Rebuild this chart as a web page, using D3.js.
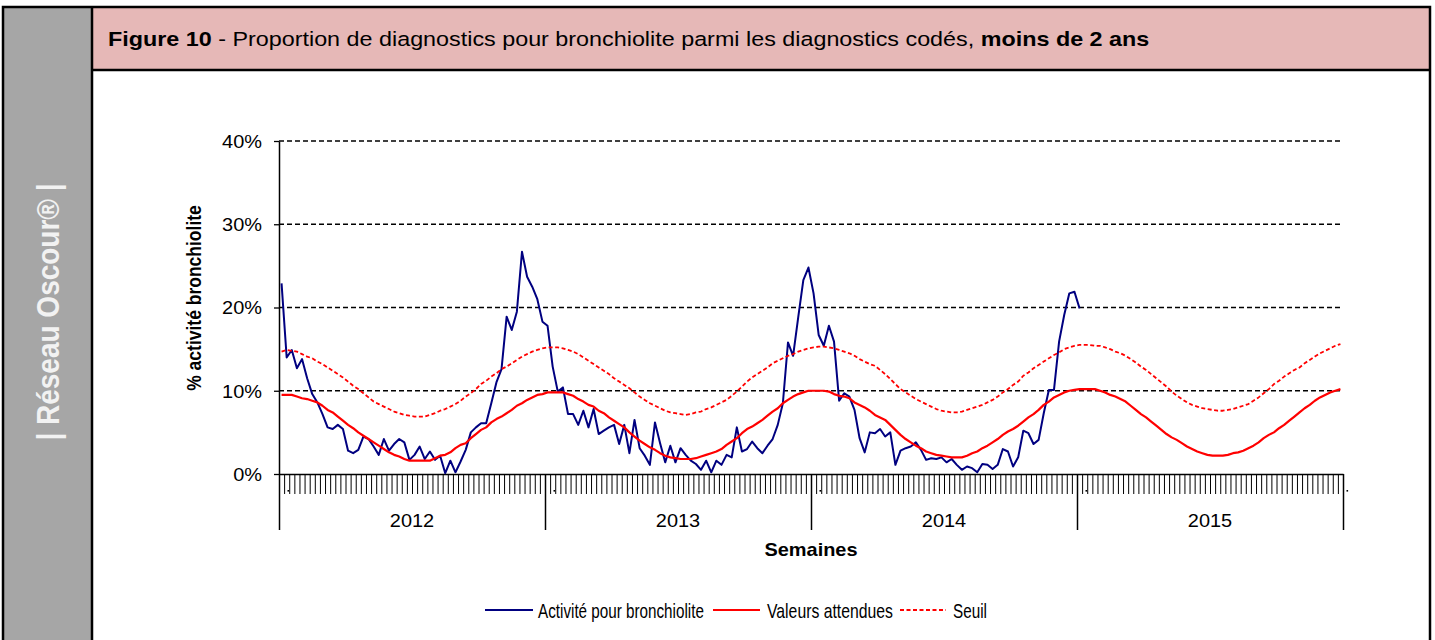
<!DOCTYPE html>
<html>
<head>
<meta charset="utf-8">
<script src="https://cdn.jsdelivr.net/npm/d3@7"></script>
<style>
  body { margin: 0; background: #fff; }
  svg { display: block; font-family: "Liberation Sans", Arial, sans-serif; }
</style>
</head>
<body>
<svg id="chart" width="1435" height="640"></svg>
<script>
// ---- data (percent, one value per week) ----
var years = ["2012", "2013", "2014", "2015"];
var weeksPerYear = [52, 52, 52, 52];

var activite = [
  22.9,14.0,14.9,12.7,13.8,11.5,9.6,8.6,7.2,5.6,
  5.4,5.9,5.4,2.8,2.5,2.9,4.5,4.2,3.3,2.3,
  4.2,2.8,3.6,4.2,3.8,1.7,2.3,3.3,1.8,2.7,
  1.7,2.2,0.1,1.6,0.2,1.5,2.9,5.0,5.6,6.1,
  6.1,8.5,11.0,12.6,18.9,17.3,19.5,26.7,23.7,22.5,
  21.0,18.3,17.8,12.9,9.9,10.4,7.2,7.2,5.9,7.6,
  5.6,7.8,4.8,5.2,5.6,5.9,3.6,5.9,2.5,6.5,
  3.1,2.2,1.1,6.2,3.7,1.4,3.4,1.4,3.1,2.3,
  1.6,1.2,0.5,1.6,0.2,1.6,1.1,2.3,2.0,5.6,
  2.7,3.0,3.9,3.1,2.5,3.4,4.2,5.9,8.5,15.8,
  14.2,18.8,23.3,24.8,21.7,16.7,15.4,17.8,15.9,8.8,
  9.7,9.3,7.7,4.3,2.6,5.0,4.9,5.4,4.5,5.0,
  1.1,2.8,3.1,3.3,3.8,2.9,1.7,1.9,1.8,2.0,
  1.4,1.8,1.1,0.5,0.9,0.7,0.2,1.2,1.1,0.6,
  1.1,3.0,2.7,0.9,2.0,5.2,4.9,3.6,4.1,7.3,
  10.1,10.1,15.9,19.1,21.7,21.9,19.9
];

var attendues = [
  9.5,9.5,9.5,9.3,9.1,9.0,8.8,8.6,8.2,7.7,
  7.4,6.9,6.4,5.9,5.5,5.0,4.6,4.2,3.8,3.4,
  3.0,2.6,2.3,2.1,1.8,1.6,1.6,1.6,1.6,1.6,
  1.9,2.2,2.3,2.6,3.1,3.5,3.7,4.3,4.8,5.3,
  5.6,6.2,6.6,6.9,7.3,7.7,8.2,8.5,8.9,9.2,
  9.5,9.6,9.8,9.8,9.8,9.8,9.6,9.4,9.0,8.7,
  8.3,8.1,7.6,7.3,6.8,6.4,6.0,5.6,5.0,4.5,
  4.0,3.6,3.2,2.9,2.5,2.2,2.0,1.9,1.8,1.8,
  1.8,1.9,2.1,2.3,2.5,2.7,3.0,3.5,3.9,4.3,
  4.9,5.4,5.7,6.1,6.5,7.0,7.5,7.9,8.5,8.9,
  9.3,9.6,9.8,10.0,10.0,10.0,10.0,9.9,9.6,9.4,
  9.3,9.1,8.6,8.3,8.0,7.6,7.1,6.8,6.5,5.9,
  5.3,4.7,4.2,3.8,3.4,3.1,2.7,2.5,2.3,2.2,
  2.1,2.0,2.0,2.0,2.2,2.5,2.7,3.1,3.4,3.8,
  4.2,4.7,5.1,5.4,5.8,6.3,6.8,7.2,7.7,8.3,
  8.7,9.2,9.5,9.8,10.0,10.1,10.2,10.2,10.2,10.2,
  10.0,9.8,9.5,9.3,9.0,8.7,8.2,7.7,7.2,6.8,
  6.3,5.8,5.3,4.8,4.4,4.1,3.7,3.3,3.0,2.7,
  2.5,2.3,2.2,2.2,2.2,2.3,2.5,2.6,2.8,3.1,
  3.4,3.8,4.3,4.7,5.0,5.5,5.9,6.4,6.9,7.4,
  7.9,8.3,8.8,9.2,9.5,9.8,10.0,10.2
];

var seuil = [
  14.7,14.9,14.8,14.7,14.4,14.1,13.9,13.5,13.2,12.8,
  12.4,12.0,11.6,11.1,10.6,10.2,9.7,9.2,8.7,8.4,
  8.1,7.8,7.5,7.3,7.1,7.0,6.9,6.9,6.9,7.1,
  7.3,7.6,7.8,8.1,8.4,8.8,9.3,9.7,10.2,10.8,
  11.2,11.7,12.1,12.6,12.9,13.3,13.7,14.1,14.4,14.7,
  14.9,15.1,15.2,15.2,15.2,15.1,14.9,14.7,14.4,14.0,
  13.6,13.2,12.8,12.4,12.0,11.5,11.1,10.7,10.3,9.8,
  9.3,8.9,8.5,8.2,7.9,7.6,7.4,7.3,7.2,7.1,
  7.2,7.4,7.5,7.8,8.0,8.3,8.6,8.9,9.4,9.9,
  10.5,11.1,11.6,12.0,12.4,12.8,13.3,13.6,13.9,14.2,
  14.4,14.7,14.9,15.1,15.2,15.3,15.3,15.2,15.1,14.9,
  14.7,14.5,14.2,13.8,13.5,13.2,13.0,12.5,12.0,11.4,
  10.8,10.2,9.8,9.4,9.0,8.7,8.4,8.1,7.8,7.6,
  7.5,7.4,7.4,7.5,7.7,7.9,8.1,8.3,8.6,8.9,
  9.3,9.8,10.2,10.7,11.1,11.8,12.2,12.7,13.1,13.5,
  13.9,14.3,14.6,15.0,15.2,15.4,15.5,15.5,15.5,15.4,
  15.4,15.2,15.0,14.7,14.5,14.2,13.8,13.4,12.9,12.5,
  12.0,11.5,11.0,10.5,9.9,9.4,9.0,8.6,8.3,8.1,
  7.9,7.8,7.7,7.6,7.6,7.7,7.8,8.0,8.2,8.4,
  8.8,9.2,9.7,10.2,10.8,11.2,11.7,12.1,12.5,12.8,
  13.3,13.7,14.1,14.5,14.8,15.1,15.4,15.6
];

var yTicks = [0, 10, 20, 30, 40];
var gridTicks = [10, 20, 30, 40];

// ---- layout ----
var svg = d3.select("#chart"),
    plot = {left: 279, right: 1343, top: 141, bottom: 474},
    stretch = 1.14;

// categories: one per week, grouped by year
var weeks = [], yearStarts = [0];
years.forEach(function(yr, k) {
  for (var w = 1; w <= weeksPerYear[k]; w++) weeks.push(yr + "-S" + (w < 10 ? "0" + w : w));
  yearStarts.push(yearStarts[k] + weeksPerYear[k]);
});

var x = d3.scaleBand().domain(weeks).range([plot.left, plot.right]).padding(0),
    edge = d3.scaleLinear().domain([0, weeks.length]).range([plot.left, plot.right]),
    y = d3.scaleLinear().domain([0, 40]).range([plot.bottom, plot.top]);

function cx(i) { return x(weeks[i]) + x.bandwidth() / 2; }

// text drawn with a horizontal stretch (or fitted to a width)
function label(parent, px, py, anchor, size, parts, targetW, rotate) {
  var g = parent.append("g");
  var t = g.append("text").attr("font-size", size).attr("text-anchor", anchor);
  parts.forEach(function(p) {
    t.append("tspan").attr("font-weight", p[1] || "normal").text(p[0]);
  });
  var sx = stretch;
  if (targetW) sx = targetW / t.node().getBBox().width;
  g.attr("transform", "translate(" + px + "," + py + ") scale(" + sx + ",1)" + (rotate ? " rotate(-90)" : ""));
  return t;
}

// ---- frame ----
svg.append("rect").attr("x", 3).attr("y", 7).attr("width", 89).attr("height", 660).attr("fill", "#a6a6a6");
svg.append("rect").attr("x", 92).attr("y", 7).attr("width", 1338).attr("height", 63).attr("fill", "#e6b8b7");
svg.append("rect").attr("x", 3).attr("y", 7).attr("width", 1427).attr("height", 660)
  .attr("fill", "none").attr("stroke", "#000").attr("stroke-width", 2.5);
svg.append("line").attr("x1", 92).attr("x2", 92).attr("y1", 7).attr("y2", 640)
  .attr("stroke", "#000").attr("stroke-width", 2.5);
svg.append("line").attr("x1", 92).attr("x2", 1430).attr("y1", 70).attr("y2", 70)
  .attr("stroke", "#000").attr("stroke-width", 2.5);

label(svg, 108, 45.5, "start", 20.5,
  [["Figure 10", "bold"], [" - Proportion de diagnostics pour bronchiolite parmi les diagnostics codés, "], ["moins de 2 ans", "bold"]],
  1042);

label(svg, 59, 312, "middle", 28, [["|  Réseau Oscour® |", "bold"]], null, true)
  .attr("fill", "#f2f2f2");

// ---- grid ----
svg.append("g").selectAll("line").data(gridTicks).enter().append("line")
  .attr("x1", plot.left).attr("x2", plot.right - 1)
  .attr("y1", function(d) { return y(d); }).attr("y2", function(d) { return y(d); })
  .attr("stroke", "#000").attr("stroke-width", 1.3).attr("stroke-dasharray", "5,3");

// ---- y axis ----
var yAxis = svg.append("g").attr("transform", "translate(" + plot.left + ",0)")
  .call(d3.axisLeft(y).tickValues(yTicks).tickSize(5).tickSizeOuter(0).tickFormat(function(d) { return d + "%"; }));
yAxis.select(".domain").attr("stroke", "#000").attr("stroke-width", 1.5);
yAxis.selectAll(".tick line").attr("stroke", "#000").attr("stroke-width", 1.3);
yAxis.selectAll(".tick text")
  .attr("font-family", "Liberation Sans, Arial, sans-serif").attr("font-size", 17.5).attr("fill", "#000")
  .attr("x", -17 / stretch).attr("dy", "0.36em").attr("transform", "scale(" + stretch + ",1)");

label(svg, 201, 298, "middle", 17.5, [["% activité bronchiolite", "bold"]], null, true);

// ---- x axis ----
var weekAxis = svg.append("g").attr("transform", "translate(0," + plot.bottom + ")")
  .call(d3.axisBottom(edge).tickValues(d3.range(0, weeks.length + 1)).tickSize(20).tickSizeOuter(0).tickFormat(""));
weekAxis.select(".domain").attr("stroke", "#000").attr("stroke-width", 1.5);
weekAxis.selectAll(".tick line").attr("stroke", "#000").attr("stroke-width", 1);

var yearAxis = svg.append("g").attr("transform", "translate(0," + plot.bottom + ")")
  .call(d3.axisBottom(edge).tickValues(yearStarts).tickSize(56).tickSizeOuter(0).tickFormat(""));
yearAxis.select(".domain").remove();
yearAxis.selectAll(".tick line").attr("stroke", "#000").attr("stroke-width", 1.5);

// small marks left by the hidden week labels
svg.append("g").selectAll("rect").data(yearStarts).enter().append("rect")
  .attr("x", function(d, k) { return k < years.length ? edge(d) + 8.5 : edge(d) + 3.5; })
  .attr("y", 490).attr("width", 1.6).attr("height", 1.6).attr("fill", "#000");

years.forEach(function(yr, k) {
  label(svg, edge(yearStarts[k] + weeksPerYear[k] / 2), 526.5, "middle", 17.5, [[yr]]);
});
label(svg, (plot.left + plot.right) / 2, 556, "middle", 17.5, [["Semaines", "bold"]]);

// ---- series ----
function line(values) {
  return d3.line().x(function(d, i) { return cx(i); }).y(function(d) { return y(d); })(values);
}
var series = [
  {name: "Activité pour bronchiolite", values: activite, color: "#000080", width: 2, dash: null},
  {name: "Valeurs attendues", values: attendues, color: "#ff0000", width: 2.2, dash: null},
  {name: "Seuil", values: seuil, color: "#ff0000", width: 1.8, dash: "4,2.5"}
];
series.forEach(function(s) {
  svg.append("path").attr("d", line(s.values)).attr("fill", "none")
    .attr("stroke", s.color).attr("stroke-width", s.width)
    .attr("stroke-dasharray", s.dash).attr("stroke-linejoin", "round");
});

// ---- legend ----
var legendPos = [
  {x1: 485, x2: 533, tx: 538, tw: 166},
  {x1: 713, x2: 760, tx: 767, tw: 126},
  {x1: 900, x2: 946, tx: 953, tw: 34}
];
series.forEach(function(s, k) {
  var p = legendPos[k];
  svg.append("line").attr("x1", p.x1).attr("x2", p.x2).attr("y1", 610).attr("y2", 610)
    .attr("stroke", s.color).attr("stroke-width", s.width).attr("stroke-dasharray", s.dash);
  label(svg, p.tx, 617.5, "start", 20, [[s.name]], p.tw);
});
</script>
</body>
</html>
